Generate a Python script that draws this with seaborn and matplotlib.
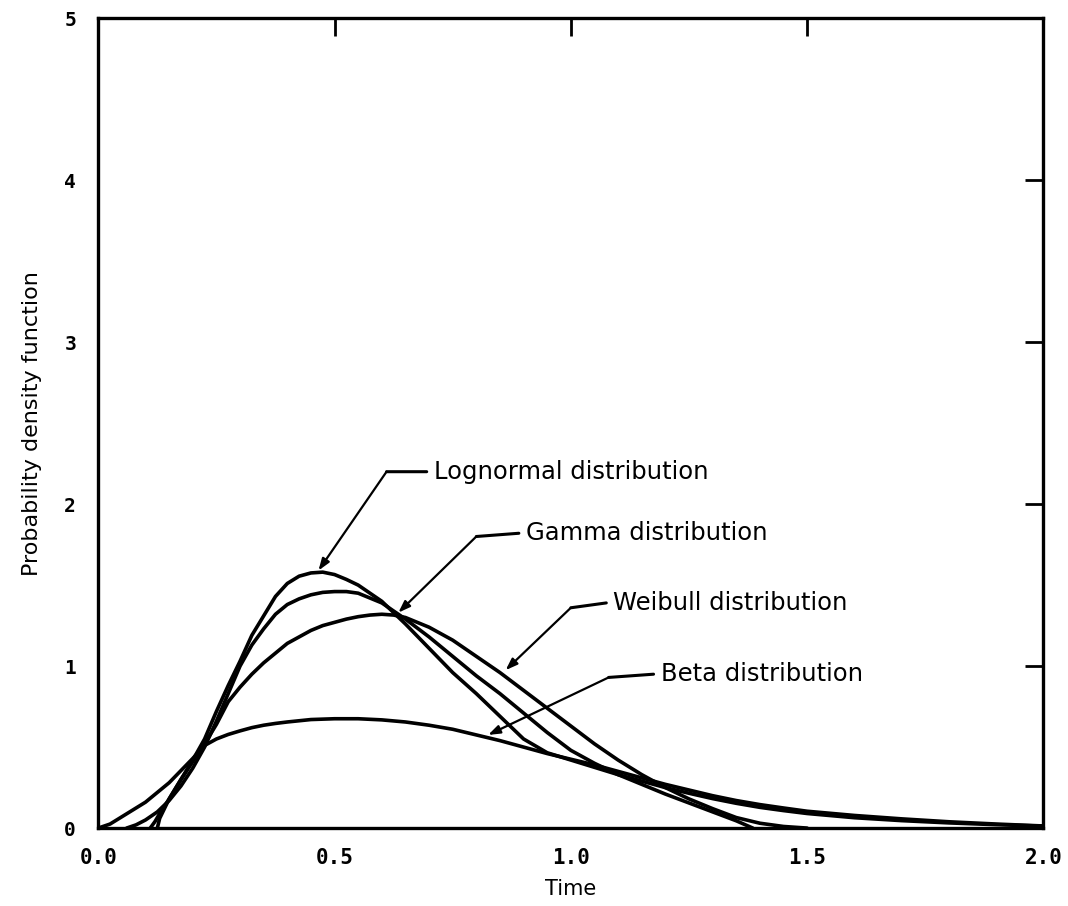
import matplotlib
matplotlib.use("Agg")
import matplotlib.pyplot as plt
import seaborn as sns
import pandas as pd

# ---- data ----
lognormal_x = [0.125, 0.13, 0.14, 0.15, 0.175, 0.2, 0.225, 0.25, 0.275, 0.3, 0.325, 0.35, 0.375, 0.4,
               0.425, 0.45, 0.475, 0.5, 0.525, 0.55, 0.6, 0.65, 0.7, 0.75, 0.8, 0.85, 0.9, 0.95, 1.0,
               1.05, 1.1, 1.15, 1.2, 1.25, 1.3, 1.35, 1.4, 1.45, 1.5, 1.6, 1.7, 1.8, 1.9, 2.0]
lognormal_y = [0.0, 0.06, 0.12, 0.18, 0.3, 0.42, 0.55, 0.72, 0.88, 1.03, 1.19, 1.31, 1.43, 1.51,
               1.555, 1.575, 1.58, 1.565, 1.535, 1.5, 1.4, 1.26, 1.11, 0.96, 0.83, 0.69, 0.55, 0.465, 0.42,
               0.375, 0.33, 0.29, 0.25, 0.215, 0.182, 0.153, 0.128, 0.108, 0.09, 0.064, 0.046, 0.032, 0.021, 0.012]

gamma_x = [0.06, 0.08, 0.1, 0.125, 0.15, 0.175, 0.2, 0.225, 0.25, 0.275, 0.3, 0.325, 0.35, 0.375, 0.4,
           0.425, 0.45, 0.475, 0.5, 0.525, 0.55, 0.6, 0.65, 0.7, 0.75, 0.8, 0.85, 0.9, 0.95, 1.0, 1.05, 1.1,
           1.15, 1.2, 1.25, 1.3, 1.35, 1.385]
gamma_y = [0.0, 0.02, 0.05, 0.1, 0.17, 0.26, 0.37, 0.5, 0.66, 0.83, 1.0, 1.13, 1.23, 1.32, 1.38,
           1.415, 1.44, 1.455, 1.46, 1.46, 1.45, 1.39, 1.29, 1.18, 1.06, 0.94, 0.83, 0.71, 0.59, 0.48, 0.4, 0.33,
           0.27, 0.21, 0.155, 0.1, 0.045, 0.0]

weibull_x = [0.11, 0.12, 0.13, 0.15, 0.175, 0.2, 0.225, 0.25, 0.275, 0.3, 0.325, 0.35, 0.375, 0.4, 0.425,
             0.45, 0.475, 0.5, 0.525, 0.55, 0.575, 0.6, 0.625, 0.65, 0.7, 0.75, 0.8, 0.85, 0.9, 0.95, 1.0,
             1.05, 1.1, 1.15, 1.2, 1.25, 1.3, 1.35, 1.4, 1.45, 1.5]
weibull_y = [0.0, 0.04, 0.09, 0.18, 0.3, 0.41, 0.52, 0.64, 0.78, 0.87, 0.95, 1.02, 1.08, 1.14, 1.18,
             1.22, 1.25, 1.27, 1.29, 1.305, 1.315, 1.32, 1.315, 1.3, 1.24, 1.16, 1.06, 0.96, 0.85, 0.74, 0.63,
             0.52, 0.42, 0.33, 0.25, 0.18, 0.12, 0.065, 0.03, 0.01, 0.0]

beta_x = [0.0, 0.025, 0.05, 0.1, 0.15, 0.2, 0.225, 0.25, 0.275, 0.3, 0.325, 0.35, 0.375, 0.4, 0.45, 0.5,
          0.55, 0.6, 0.65, 0.7, 0.75, 0.8, 0.85, 0.9, 0.95, 1.0, 1.05, 1.1, 1.15, 1.2, 1.25, 1.3, 1.35,
          1.4, 1.45, 1.5, 1.6, 1.7, 1.8, 1.9, 2.0]
beta_y = [0.0, 0.025, 0.07, 0.16, 0.28, 0.43, 0.51, 0.55, 0.578, 0.6, 0.62, 0.635, 0.646, 0.655, 0.67, 0.675,
          0.675, 0.668, 0.655, 0.635, 0.61, 0.575, 0.54, 0.5, 0.46, 0.425, 0.39, 0.35, 0.31, 0.27, 0.235, 0.2,
          0.17, 0.145, 0.124, 0.104, 0.078, 0.057, 0.039, 0.025, 0.013]

labels = ["Lognormal distribution", "Gamma distribution", "Weibull distribution", "Beta distribution"]
label_text_xy = [(0.71, 2.2), (0.905, 1.82), (1.09, 1.39), (1.19, 0.95)]
label_elbow_xy = [(0.61, 2.2), (0.80, 1.80), (1.0, 1.36), (1.08, 0.93)]
label_tip_xy = [(0.466, 1.59), (0.635, 1.33), (0.862, 0.975), (0.825, 0.575)]

x_ticks = [0.0, 0.5, 1.0, 1.5, 2.0]
x_ticklabels = ["0.0", "0.5", "1.0", "1.5", "2.0"]
y_ticks = [0, 1, 2, 3, 4, 5]
y_ticklabels = ["0", "1", "2", "3", "4", "5"]

# ---- build frame ----
frames = []
for name, xs, ys in [("Lognormal", lognormal_x, lognormal_y), ("Gamma", gamma_x, gamma_y),
                     ("Weibull", weibull_x, weibull_y), ("Beta", beta_x, beta_y)]:
    frames.append(pd.DataFrame({"Time": xs, "pdf": ys, "dist": name}))
df = pd.concat(frames, ignore_index=True)

sns.set_style("white")
plt.rcParams["font.family"] = ["DejaVu Sans"]
plt.rcParams["text.color"] = "black"
plt.rcParams["axes.labelcolor"] = "black"

fig = plt.figure(figsize=(10.68, 9.06), dpi=100)
ax = fig.add_axes([0.092, 0.086, 0.885, 0.894])

for name, sub in df.groupby("dist", sort=False):
    sns.lineplot(data=sub, x="Time", y="pdf", ax=ax, color="black", linewidth=2.6,
                 estimator=None, sort=False, legend=False)

ax.set_xlim(0, 2)
ax.set_ylim(0, 5)

# ticks: inward on all sides, labels only left/bottom
ax.set_xticks(x_ticks)
ax.set_xticklabels(x_ticklabels, fontfamily="DejaVu Sans Mono", fontweight="bold", fontsize=15)
ax.set_yticks(y_ticks)
ax.set_yticklabels(y_ticklabels, fontfamily="DejaVu Sans Mono", fontweight="bold", fontsize=14)
ax.tick_params(axis="both", direction="in", length=13, width=2, colors="black")
ax.tick_params(axis="x", pad=14)
ax.tick_params(axis="y", pad=16)

sec_x = ax.secondary_xaxis("top")
sec_x.set_xticks([0.5, 1.0, 1.5])
sec_x.tick_params(direction="in", length=13, width=2, labeltop=False, colors="black")
sec_y = ax.secondary_yaxis("right")
sec_y.set_yticks([1, 2, 3, 4])
sec_y.tick_params(direction="in", length=13, width=2, labelright=False, colors="black")
for s in list(sec_x.spines.values()) + list(sec_y.spines.values()):
    s.set_visible(False)

for s in ax.spines.values():
    s.set_visible(True)
    s.set_color("black")
    s.set_linewidth(2.4)

ax.set_xlabel("Time", fontsize=15, labelpad=8, color="black")
ax.set_ylabel("Probability density function", fontsize=16, labelpad=16, color="black")

# annotations
for lab, txy, exy, tip in zip(labels, label_text_xy, label_elbow_xy, label_tip_xy):
    ax.text(txy[0], txy[1], lab, fontsize=17.5, va="center", ha="left", color="black")
    ax.annotate("", xy=exy, xytext=(txy[0] - 0.015, txy[1]),
                arrowprops=dict(arrowstyle="-", color="black", lw=2.2, shrinkA=0, shrinkB=0))
    ax.annotate("", xy=tip, xytext=exy,
                arrowprops=dict(arrowstyle="-|>,head_length=0.7,head_width=0.25", color="black",
                                lw=1.6, shrinkA=0, shrinkB=0))

fig.savefig("out.png", dpi=100, facecolor="white")
